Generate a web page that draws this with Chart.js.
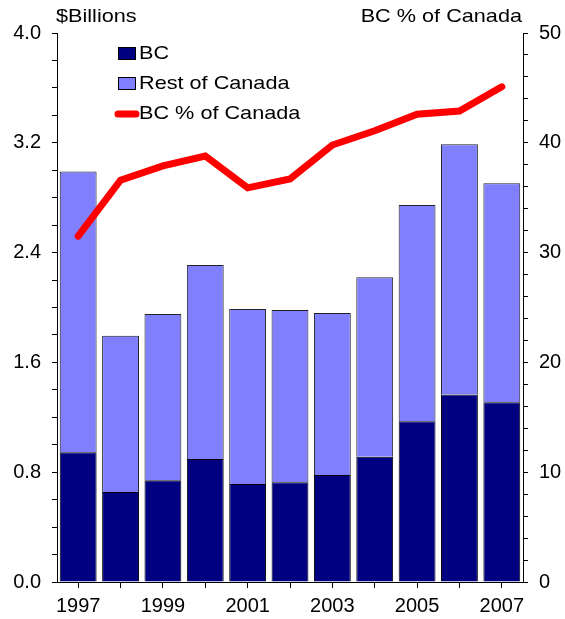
<!DOCTYPE html>
<html>
<head>
<meta charset="utf-8">
<script src="https://cdn.jsdelivr.net/npm/chart.js@4"></script>
<style>
  html, body { margin:0; padding:0; background:#fff; }
  #wrap { width:565px; height:619px; position:relative; }
</style>
</head>
<body>
<div id="wrap"><canvas id="c" width="565" height="619"></canvas></div>
<script>
// -------- data --------
const years = ["1997","1998","1999","2000","2001","2002","2003","2004","2005","2006","2007"];
const bcValues   = [0.945, 0.656, 0.741, 0.896, 0.714, 0.726, 0.780, 0.913, 1.171, 1.367, 1.309];
const restValues = [2.045, 1.139, 1.212, 1.414, 1.275, 1.256, 1.180, 1.307, 1.576, 1.823, 1.596];
const bcShare    = [31.5, 36.6, 37.9, 38.8, 35.9, 36.7, 39.8, 41.1, 42.6, 42.9, 45.1];

const FONT = "'Liberation Sans', Arial, sans-serif";

// text a bit wider than normal, like the original
function wideText(ctx, txt, x, y, align){
    const sx = 1.14;
    ctx.save();
    ctx.translate(x, y);
    ctx.scale(sx, 1);
    ctx.textAlign = align;
    ctx.fillText(txt, 0, 0);
    ctx.restore();
}

// -------- titles + legend drawn inside canvas --------
const decor = {
  id: 'decor',
  afterDraw(chart){
    const ctx = chart.ctx;
    ctx.save();
    ctx.fillStyle = '#000';
    ctx.font = '19px ' + FONT;
    ctx.textBaseline = 'middle';
    wideText(ctx, '$Billions', 56, 17, 'left');
    wideText(ctx, 'BC % of Canada', 522, 17, 'right');

    // legend
    ctx.lineWidth = 1;
    ctx.strokeStyle = '#000';
    ctx.fillStyle = '#000080';
    ctx.fillRect(118.5, 47.5, 17, 12);
    ctx.strokeRect(118.5, 47.5, 17, 12);
    ctx.fillStyle = '#8080FF';
    ctx.fillRect(118.5, 77.5, 17, 12);
    ctx.strokeRect(118.5, 77.5, 17, 12);
    ctx.strokeStyle = '#FF0000';
    ctx.lineWidth = 7;
    ctx.lineCap = 'round';
    ctx.beginPath();
    ctx.moveTo(118, 114);
    ctx.lineTo(136, 114);
    ctx.stroke();
    ctx.fillStyle = '#000';
    wideText(ctx, 'BC', 139, 54, 'left');
    wideText(ctx, 'Rest of Canada', 139, 84, 'left');
    wideText(ctx, 'BC % of Canada', 139, 114, 'left');
    ctx.restore();
  }
};

new Chart(document.getElementById('c'), {
  type: 'bar',
  data: {
    labels: years,
    datasets: [
      { type:'line', label:'BC % of Canada', data: bcShare, yAxisID:'y1',
        borderColor:'#FF0000', borderWidth:7, pointRadius:0, tension:0,
        borderCapStyle:'round', borderJoinStyle:'miter', fill:false, order:0 },
      { label:'BC', data: bcValues, yAxisID:'y', backgroundColor:'#000080',
        borderColor:'#000', borderWidth:1, barPercentage:0.87, categoryPercentage:1, order:1 },
      { label:'Rest of Canada', data: restValues, yAxisID:'y', backgroundColor:'#8080FF',
        borderColor:'#222', borderWidth:1, barPercentage:0.87, categoryPercentage:1, order:1 }
    ]
  },
  options: {
    responsive:false,
    animation:false,
    layout:{ padding:{ top:33, left:0, right:0, bottom:0 } },
    plugins:{ legend:{ display:false }, tooltip:{ enabled:false } },
    scales:{
      x:{
        stacked:true,
        grid:{ display:true, drawOnChartArea:false, tickLength:6, color:'#000', offset:false },
        border:{ color:'#000', width:1 },
        ticks:{ autoSkip:false, maxRotation:0, color:'#000', padding:6,
          font:{ family:FONT, size:20 },
          callback:(v,i)=> i%2===0 ? years[i] : '' },
        afterFit:(s)=>{ s.height = 37; }
      },
      y:{
        stacked:true, position:'left', min:0, max:4.0,
        grid:{ drawOnChartArea:false, tickLength:5, color:'#000' },
        border:{ color:'#000', width:1 },
        ticks:{ stepSize:0.2, autoSkip:false, color:'#000', padding:11, font:{ family:FONT, size:20 },
          callback:(v)=>{ const k = Math.round(v*10); return k%8===0 ? (v).toFixed(1) : ''; } },
        afterFit:(s)=>{ s.width = 57; }
      },
      y1:{
        position:'right', min:0, max:50,
        grid:{ drawOnChartArea:false, tickLength:5, color:'#000' },
        border:{ color:'#000', width:1 },
        ticks:{ stepSize:2, autoSkip:false, color:'#000', padding:11, font:{ family:FONT, size:20 },
          callback:(v)=> Math.round(v)%10===0 ? String(Math.round(v)) : '' },
        afterFit:(s)=>{ s.width = 42; }
      }
    }
  },
  plugins:[decor]
});
</script>
</body>
</html>
